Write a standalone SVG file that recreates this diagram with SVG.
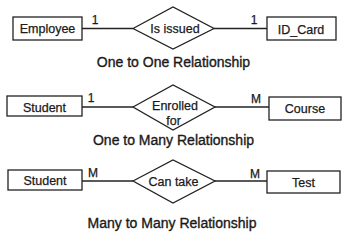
<svg xmlns="http://www.w3.org/2000/svg" width="349" height="235" viewBox="0 0 349 235">
<style>
.box{fill:#fff;stroke:#222;stroke-width:1.3}
.dia{fill:#fff;stroke:#222;stroke-width:1.3}
.ln{stroke:#222;stroke-width:1.3;fill:none}
.t{font-family:"Liberation Sans",Arial,sans-serif;font-size:12.5px;fill:#1a1a1a;stroke:#1a1a1a;stroke-width:0.25;text-anchor:middle}
.c{font-family:"Liberation Sans",Arial,sans-serif;font-size:14px;fill:#1a1a1a;stroke:#1a1a1a;stroke-width:0.35;text-anchor:middle}
.k{font-family:"Liberation Sans",Arial,sans-serif;font-size:12px;fill:#1a1a1a;stroke:#1a1a1a;stroke-width:0.25;text-anchor:middle}
</style>
<rect width="349" height="235" fill="#fff"/>
<g id="connectors">
<line class="ln" x1="82" y1="28.5" x2="133" y2="28.5"/>
<line class="ln" x1="214" y1="28.5" x2="267" y2="28.5"/>
<line class="ln" x1="82" y1="107" x2="133" y2="107"/>
<line class="ln" x1="215" y1="107" x2="269" y2="107"/>
<line class="ln" x1="82" y1="181" x2="133" y2="181"/>
<line class="ln" x1="215" y1="181" x2="267" y2="181"/>
<text class="k" x="95" y="24">1</text>
<text class="k" x="254" y="24">1</text>
<text class="k" x="91" y="102">1</text>
<text class="k" x="256" y="103">M</text>
<text class="k" x="93" y="177">M</text>
<text class="k" x="255" y="178">M</text>
</g>
<g id="employee"><rect class="box" x="13" y="17" width="69" height="23"/><text class="t" x="47.5" y="32.5">Employee</text></g>
<g id="is_issued"><polygon class="dia" points="133,28.5 173,7 214,28.5 173,49"/><text class="t" x="175" y="33">Is issued</text></g>
<g id="id_card"><rect class="box" x="267" y="17" width="69" height="23"/><text class="t" x="301" y="33.5">ID_Card</text></g>
<text class="c" x="173.5" y="67">One to One Relationship</text>
<g id="student1"><rect class="box" x="7" y="96" width="75" height="20"/><text class="t" x="44.5" y="111.5">Student</text></g>
<g id="enrolled_for"><polygon class="dia" points="133,107 173,85 215,107 173,130"/><text class="t" x="175" y="110">Enrolled</text><text class="t" x="173.5" y="125">for</text></g>
<g id="course"><rect class="box" x="269" y="97" width="72" height="23"/><text class="t" x="305" y="113">Course</text></g>
<text class="c" x="173.5" y="145">One to Many Relationship</text>
<g id="student2"><rect class="box" x="8" y="170" width="74" height="20"/><text class="t" x="45" y="185">Student</text></g>
<g id="can_take"><polygon class="dia" points="133,181 173,160 215,181 173,203"/><text class="t" x="173.5" y="186">Can take</text></g>
<g id="test"><rect class="box" x="267" y="171" width="73" height="22"/><text class="t" x="303.5" y="187">Test</text></g>
<text class="c" x="172" y="228">Many to Many Relationship</text>
</svg>
